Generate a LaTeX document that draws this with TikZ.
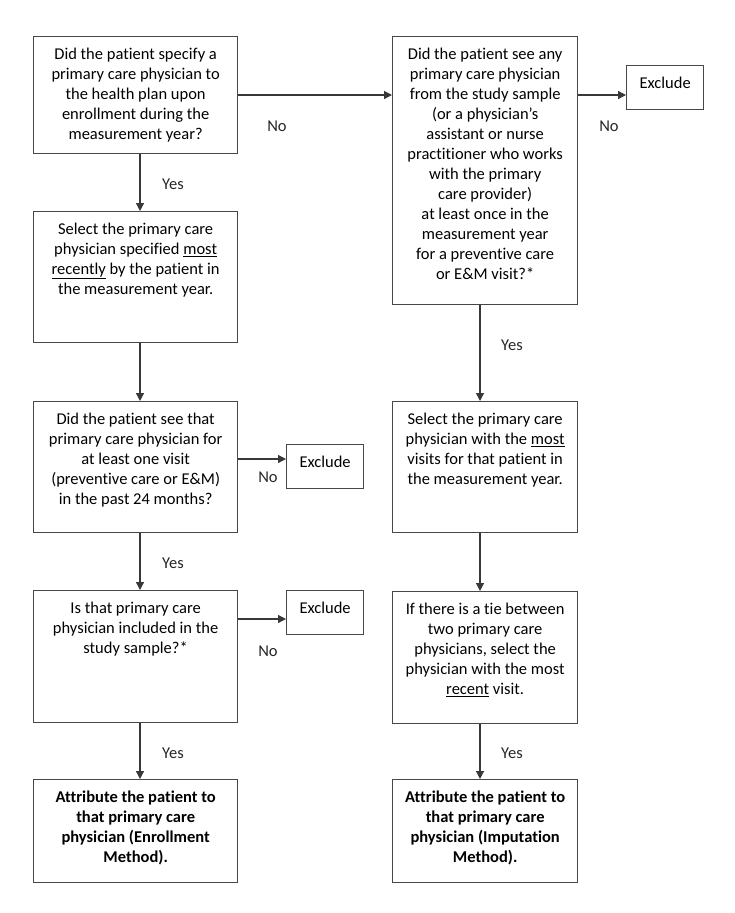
\documentclass[tikz,border=0pt]{standalone}
\usepackage{fontspec}
\setmainfont{Carlito}[Ligatures=NoCommon]
\usetikzlibrary{arrows.meta}
\tikzset{
  boxst/.style={draw=black!72, line width=1.3pt, inner sep=0pt, anchor=north west, font=\fontsize{16.5}{20}\selectfont},
  conn/.style={draw=black!78, line width=1.2pt, -{Triangle[length=8pt,width=8pt]}},
  lbl/.style={font=\fontsize{16.5}{20}\selectfont, inner sep=0pt, text=black!85},
}
\newcommand{\flowbox}[6]{\node[boxst] (#1) at (#2,#3) {\parbox[c][\dimexpr #5pt-#3pt\relax][t]{\dimexpr #4pt-#2pt\relax}{\centering\vspace*{11.5pt}#6\par}};}
\begin{document}
\begin{tikzpicture}[x=1pt,y=-1pt]
\useasboundingbox[fill=white] (0,0) rectangle (734,913);
% left column
\flowbox{b1}{33}{36}{237}{153}{Did the patient specify a\\primary care physician to\\the health plan upon\\enrollment during the\\measurement year?}
\flowbox{b2}{33}{211}{237}{342}{Select the primary care\\physician specified \underline{most}\\\underline{recently} by the patient in\\the measurement year.}
\flowbox{b3}{33}{401}{237}{532}{Did the patient see that\\primary care physician for\\at least one visit\\(preventive care or E\&M)\\in the past 24 months?}
\flowbox{b4}{33}{590}{237}{722}{Is that primary care\\physician included in the\\study sample?*}
\flowbox{b5}{33}{779}{237}{882}{\bfseries Attribute the patient to\\that primary care\\physician (Enrollment\\Method).}
% right column
\flowbox{r1}{392}{36}{577}{304}{Did the patient see any\\primary care physician\\from the study sample\\(or a physician’s\\assistant or nurse\\practitioner who works\\with the primary\\care provider)\\at least once in the\\measurement year\\for a preventive care\\or E\&M visit?*}
\flowbox{r2}{392}{401}{577}{532}{Select the primary care\\physician with the \underline{most}\\visits for that patient in\\the measurement year.}
\flowbox{r3}{392}{591}{577}{723}{If there is a tie between\\two primary care\\physicians, select the\\physician with the most\\\underline{recent} visit.}
\flowbox{r4}{392}{779}{577}{882}{\bfseries Attribute the patient to\\that primary care\\physician (Imputation\\Method).}
% exclude boxes
\flowbox{exr}{626}{65}{703}{109}{Exclude}
\flowbox{ex1}{286}{444}{363}{488}{Exclude}
\flowbox{ex2}{286}{590}{363}{634}{Exclude}
% connectors
\draw[conn] (b1.south -| 140,0) -- (b2.north -| 140,0);
\draw[conn] (b2.south -| 140,0) -- (b3.north -| 140,0);
\draw[conn] (b3.south -| 140,0) -- (b4.north -| 140,0);
\draw[conn] (b4.south -| 140,0) -- (b5.north -| 140,0);
\draw[conn] (r1.south -| 480,0) -- (r2.north -| 480,0);
\draw[conn] (r2.south -| 480,0) -- (r3.north -| 480,0);
\draw[conn] (r3.south -| 480,0) -- (r4.north -| 480,0);
\draw[conn] (b1.east |- 0,95) -- (r1.west |- 0,95);
\draw[conn] (r1.east |- 0,95) -- (exr.west |- 0,95);
\draw[conn] (b3.east |- 0,459) -- (ex1.west |- 0,459);
\draw[conn] (b4.east |- 0,619) -- (ex2.west |- 0,619);
% labels
\node[lbl] (y1) at (173,184) {Yes};
\node[lbl] (y2) at (173,563) {Yes};
\node[lbl] (y3) at (173,753) {Yes};
\node[lbl] (y4) at (512,345) {Yes};
\node[lbl] (y5) at (512,753) {Yes};
\node[lbl] (n1) at (277,126) {No};
\node[lbl] (n2) at (609,126) {No};
\node[lbl] (n3) at (268,477) {No};
\node[lbl] (n4) at (268,651) {No};
\end{tikzpicture}
\end{document}
